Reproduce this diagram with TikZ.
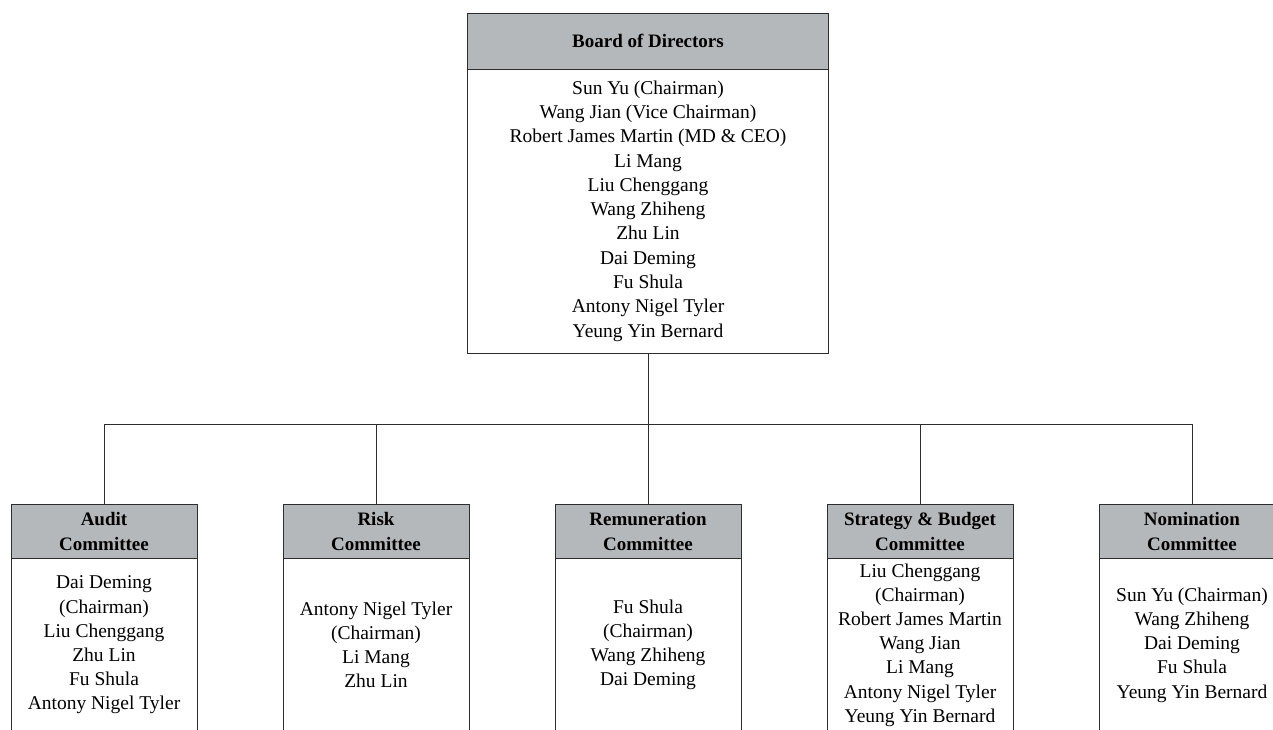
\documentclass[tikz,border=0pt]{standalone}
\usepackage{fontspec}
\setmainfont{Liberation Serif}
\definecolor{hdrgray}{RGB}{181,184,187}
\definecolor{linegray}{RGB}{45,45,45}
\begin{document}
\begin{tikzpicture}[x=1pt,y=-1pt,
  boxline/.style={draw=linegray, line width=1pt},
  bhdr/.style={boxline, fill=hdrgray, minimum width=361pt, minimum height=56pt, inner sep=0pt, align=center, font=\fontsize{19}{25}\selectfont\bfseries},
  bbody/.style={boxline, fill=white, minimum width=361pt, minimum height=284pt, inner sep=0pt, align=center, font=\fontsize{19.5}{24.3}\selectfont},
  chdr/.style={boxline, fill=hdrgray, minimum width=186pt, minimum height=54pt, inner sep=0pt, align=center, font=\fontsize{19}{25}\selectfont\bfseries},
  cbody/.style={boxline, fill=white, minimum width=186pt, minimum height=174pt, inner sep=0pt, align=center, font=\fontsize{19.5}{24.2}\selectfont},
  conn/.style={draw=linegray, line width=1pt}]
\useasboundingbox (0,0) rectangle (1273,729);
\clip (0,0) rectangle (1273,729);

% Board
\node[bhdr] (bh) at (648,41) {Board of Directors};
\node[bbody] (bb) at (648,211) {Sun Yu (Chairman)\\Wang Jian (Vice Chairman)\\Robert James Martin (MD \& CEO)\\Li Mang\\Liu Chenggang\\Wang Zhiheng\\Zhu Lin\\Dai Deming\\Fu Shula\\Antony Nigel Tyler\\Yeung Yin Bernard};

% Committees
\node[chdr] (h1) at (104,531) {Audit\\Committee};
\node[cbody] (b1) at (104,645) {Dai Deming\\(Chairman)\\Liu Chenggang\\Zhu Lin\\Fu Shula\\Antony Nigel Tyler};

\node[chdr] (h2) at (376,531) {Risk\\Committee};
\node[cbody] (b2) at (376,645) {Antony Nigel Tyler\\(Chairman)\\Li Mang\\Zhu Lin};

\node[chdr] (h3) at (648,531) {Remuneration\\Committee};
\node[cbody] (b3) at (648,645) {Fu Shula\\(Chairman)\\Wang Zhiheng\\Dai Deming};

\node[chdr] (h4) at (920,531) {Strategy \& Budget\\Committee};
\node[cbody] (b4) at (920,645) {Liu Chenggang\\(Chairman)\\Robert James Martin\\Wang Jian\\Li Mang\\Antony Nigel Tyler\\Yeung Yin Bernard};

\node[chdr] (h5) at (1192,531) {Nomination\\Committee};
\node[cbody] (b5) at (1192,645) {Sun Yu (Chairman)\\Wang Zhiheng\\Dai Deming\\Fu Shula\\Yeung Yin Bernard};

% Connectors
\coordinate (bus) at (648,424);
\draw[conn] (bb.south) -- (bus);
\draw[conn] (h1.north) |- (bus) -| (h5.north);
\draw[conn] (h2.north) -- (h2.north |- bus);
\draw[conn] (h3.north) -- (h3.north |- bus);
\draw[conn] (h4.north) -- (h4.north |- bus);
\end{tikzpicture}
\end{document}
